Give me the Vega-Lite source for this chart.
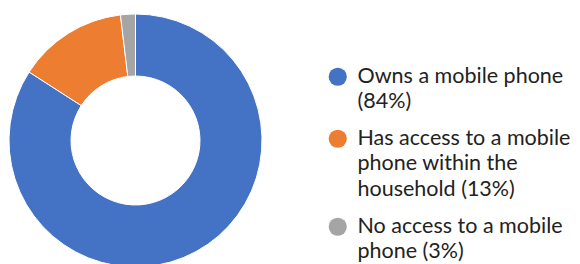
{
  "$schema": "https://vega.github.io/schema/vega-lite/v6.json",
  "width": 271,
  "height": 281,
  "autosize": {"type": "none"},
  "padding": {"left": 0, "top": 0, "right": 309, "bottom": 0},
  "background": "white",
  "data": {
    "values": [
      {"label": "Owns a mobile phone|(84%)", "value": 84.1, "rank": 1},
      {"label": "Has access to a mobile|phone within the|household (13%)", "value": 14.0, "rank": 2},
      {"label": "No access to a mobile|phone (3%)", "value": 1.9, "rank": 3}
    ]
  },
  "mark": {"type": "arc", "innerRadius": 64.5, "outerRadius": 126.5, "stroke": "white", "strokeWidth": 1},
  "encoding": {
    "theta": {"field": "value", "type": "quantitative", "stack": true},
    "order": {"field": "rank", "type": "quantitative"},
    "color": {
      "field": "label",
      "type": "nominal",
      "scale": {
        "domain": ["Owns a mobile phone|(84%)", "Has access to a mobile|phone within the|household (13%)", "No access to a mobile|phone (3%)"],
        "range": ["#4472C4", "#ED7D31", "#A5A5A5"]
      },
      "legend": {
        "title": null,
        "orient": "none",
        "legendX": 327,
        "legendY": 66,
        "symbolType": "circle",
        "symbolSize": 330,
        "symbolStrokeWidth": 0,
        "symbolOpacity": 1,
        "labelFont": "Lato",
        "labelFontSize": 21.5,
        "labelColor": "#222222",
        "labelOffset": 9,
        "labelLimit": 300,
        "labelExpr": "split(datum.label, '|')",
        "rowPadding": 14
      }
    }
  },
  "config": {"view": {"stroke": null}, "style": {"guide-label": {"lineHeight": 25.5}}}
}
